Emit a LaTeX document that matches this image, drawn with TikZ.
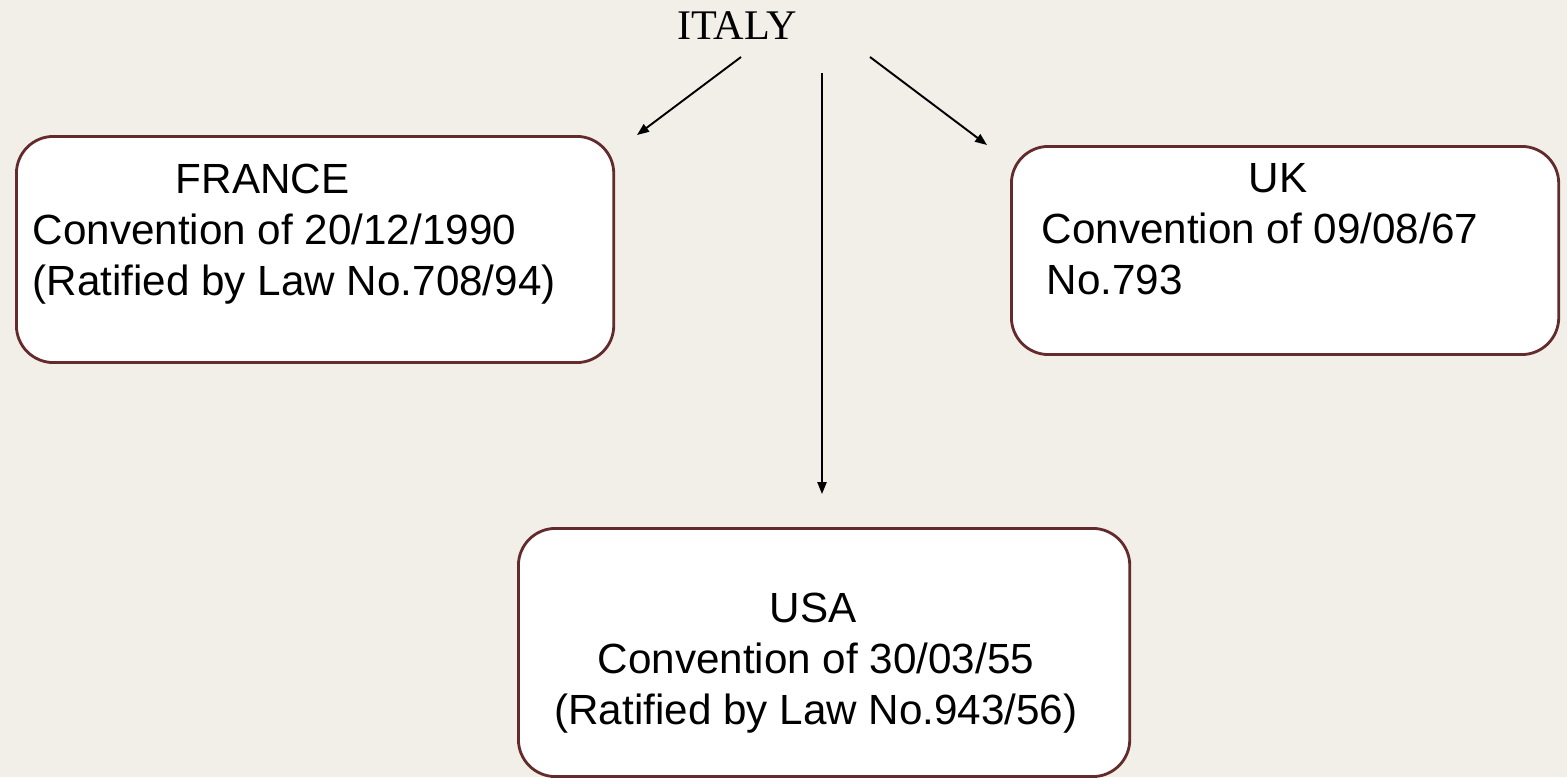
\documentclass[tikz,border=0pt]{standalone}
\usepackage{fontspec}
\setmainfont{Liberation Serif}
\setsansfont{Liberation Sans}
\usetikzlibrary{arrows.meta}
\definecolor{paper}{RGB}{242,239,233}
\definecolor{boxline}{RGB}{99,43,43}
\tikzset{
	node_top/.style = {
		inner sep=0pt,
		font=\fontsize{12}{14}\selectfont,
		anchor=base
	},
	node_box/.style = {
		rectangle,
		draw=boxline,
		fill=white,
		line width=0.8pt,
		rounded corners=0.37cm,
		inner sep=0pt,
		anchor=north west
	},
	node_txt/.style = {
		inner sep=0pt,
		font=\sffamily\fontsize{12}{14.5}\selectfont,
		anchor=north west,
		align=left
	},
	node_txt_c/.style = {
		node_txt,
		anchor=north,
		align=center
	},
	link/.style = {
		-{Triangle[length=3.4pt,width=2.6pt]},
		line width=0.55pt
	}
}

\begin{document}
\begin{tikzpicture}[x=0.01cm, y=-0.01cm]
\fill[paper] (0,0) rectangle (1567,777);

\node [node_top] (italy) at (737,39) {ITALY};

% the three partner countries
\node [node_box, minimum width=5.97cm, minimum height=2.26cm] (france) at (15,135) {};
\node [node_box, minimum width=5.47cm, minimum height=2.08cm] (uk) at (1010,145) {};
\node [node_box, minimum width=6.11cm, minimum height=2.48cm] (usa) at (517,527) {};

\node [node_txt] (france_txt) at (32,163) {\hspace*{1.43cm}FRANCE\\Convention of 20/12/1990\\(Ratified by Law No.708/94)};
\node [node_txt] (uk_txt) at (1041,163) {\hspace*{2.07cm}UK\\Convention of 09/08/67\\\hspace*{0.05cm}No.793};
\node [node_txt_c] (usa_txt) at (816,592) {USA\hspace*{0.06cm}\\Convention of 30/03/55\hspace*{0.16cm}\\(Ratified by Law No.943/56)};

% arrows
\coordinate (fr_from) at (741,57);
\coordinate (fr_tip) at (637,135);
\coordinate (uk_from) at (870,57);
\coordinate (uk_tip) at (987,145);
\coordinate (us_from) at (822,73);
\coordinate (us_tip) at (822,494);
\draw [link] (fr_from) -- (fr_tip);
\draw [link] (uk_from) -- (uk_tip);
\draw [link] (us_from) -- (us_tip);
\end{tikzpicture}
\end{document}
